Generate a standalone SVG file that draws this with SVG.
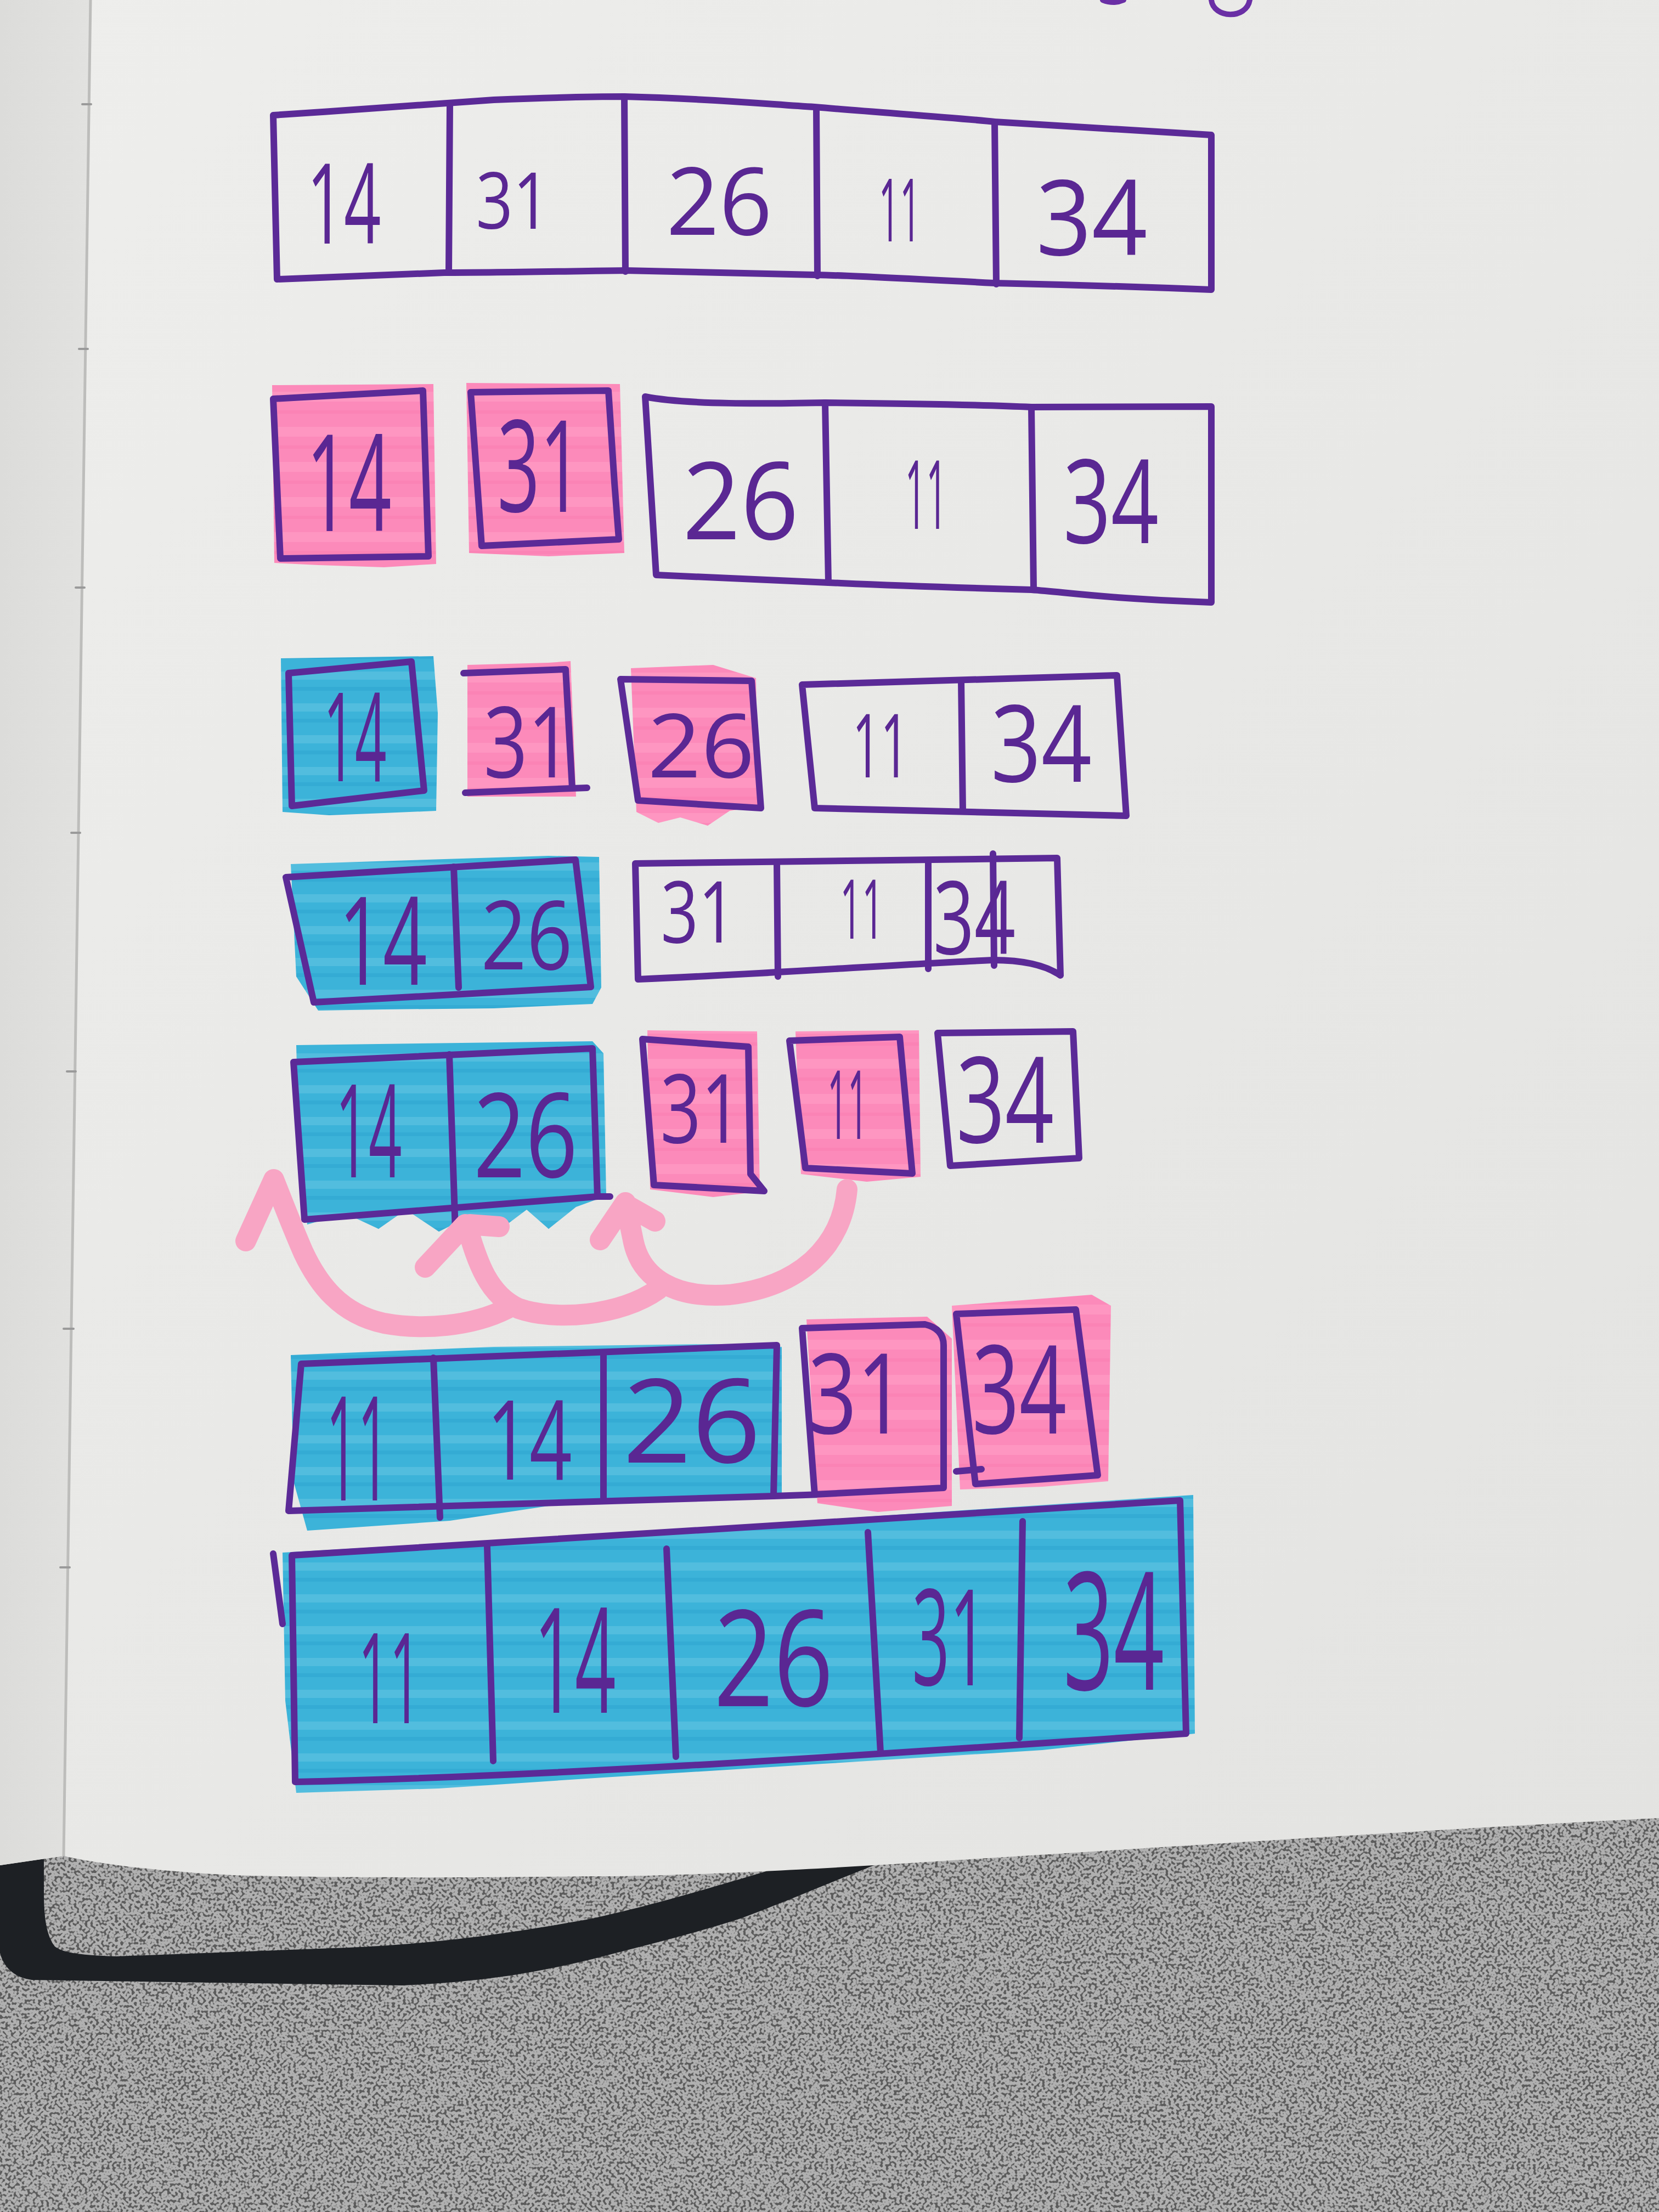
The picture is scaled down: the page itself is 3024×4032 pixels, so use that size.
<svg xmlns="http://www.w3.org/2000/svg" width="3024" height="4032" viewBox="0 0 3024 4032">
<defs>
  <linearGradient id="paper" x1="0" y1="0" x2="1" y2="1">
    <stop offset="0" stop-color="#eeeeec"/>
    <stop offset="1" stop-color="#e3e3e1"/>
  </linearGradient>
  <linearGradient id="leaf" x1="0" y1="0" x2="1" y2="0">
    <stop offset="0" stop-color="#dcdcda"/>
    <stop offset="1" stop-color="#e2e2e0"/>
  </linearGradient>
  <pattern id="bl" patternUnits="userSpaceOnUse" width="240" height="58">
    <rect width="240" height="58" fill="#3cb3d9"/>
    <rect y="6" width="240" height="15" fill="#6ccae5" opacity="0.45"/>
    <rect y="34" width="240" height="7" fill="#279fcc" opacity="0.4"/>
  </pattern>
  <pattern id="pk" patternUnits="userSpaceOnUse" width="240" height="64">
    <rect width="240" height="64" fill="#fc8aba"/>
    <rect y="10" width="240" height="18" fill="#ffa1c7" opacity="0.5"/>
    <rect y="44" width="240" height="6" fill="#f97bb0" opacity="0.5"/>
  </pattern>
  <filter id="speckle" filterUnits="objectBoundingBox" x="0" y="0" width="1" height="1" color-interpolation-filters="sRGB">
    <feTurbulence type="fractalNoise" baseFrequency="0.2" numOctaves="1" seed="7" result="n"/>
    <feColorMatrix in="n" type="matrix" values="0 0 0 0 0.36  0 0 0 0 0.36  0 0 0 0 0.36  9 0 0 0 -4.5" result="d"/>
    <feMerge><feMergeNode in="SourceGraphic"/><feMergeNode in="d"/></feMerge>
  </filter>
</defs>
<style>
  .ol{fill:none;stroke:#5b2a97;stroke-width:12;stroke-linejoin:round;stroke-linecap:round}
  .num{font-family:'Open Sans','Liberation Sans',sans-serif;font-weight:400;fill:#5a2793;text-anchor:middle}
  .hb{fill:url(#bl)}
  .hp{fill:url(#pk)}
  .arr{fill:none;stroke:#f8a5c4;stroke-width:38;stroke-linecap:round;stroke-linejoin:round}
  .stitch{stroke:#9a9a9a;stroke-width:4;stroke-linecap:round}
</style>

<!-- background: table, strap, page -->
<g id="background">
  <rect x="0" y="3200" width="3024" height="832" fill="#b0b0b0" filter="url(#speckle)"/>
  <path d="M0,3380 L0,3560 C8,3590 30,3605 58,3609 L733,3619 C900,3612 1000,3590 1080,3571 C1200,3540 1280,3520 1350,3497 C1450,3460 1560,3410 1700,3360 L1500,3380 C1300,3440 1200,3470 1080,3497 C900,3530 760,3545 636,3550 L212,3566 C150,3564 115,3560 100,3548 C86,3530 80,3500 80,3450 L80,3380 Z" fill="#1d2024"/>
  <path d="M0,0 H3024 V3314 C2600,3335 2000,3375 1736,3391 C1450,3410 1200,3421 1080,3420 C800,3424 550,3422 424,3418 C300,3412 180,3398 116,3383 L0,3400 Z" fill="url(#paper)"/>
  <path d="M0,0 L165,0 L116,3383 L0,3400 Z" fill="url(#leaf)"/>
  <path d="M165,0 L116,3383" stroke="#bdbdbb" stroke-width="5" fill="none"/>
  <line class="stitch" x1="150" y1="190" x2="166" y2="190"/>
  <line class="stitch" x1="144" y1="636" x2="160" y2="636"/>
  <line class="stitch" x1="138" y1="1071" x2="154" y2="1071"/>
  <line class="stitch" x1="130" y1="1518" x2="146" y2="1518"/>
  <line class="stitch" x1="122" y1="1953" x2="138" y2="1953"/>
  <line class="stitch" x1="116" y1="2422" x2="134" y2="2422"/>
  <line class="stitch" x1="110" y1="2857" x2="127" y2="2857"/>
  <path d="M2010,0 Q2030,8 2048,0 M2208,0 C2212,34 2272,36 2278,0" fill="none" stroke="#6a2fa5" stroke-width="10" stroke-linecap="round"/>
</g>

<!-- Row 1 -->
<g id="row1-array">
  <path class="ol" d="M498,210 C650,200 829,187 900,182 C1000,178 1100,176 1138,176 C1300,180 1400,190 1485,195 C1600,205 1750,215 1813,222 L2208,246 L2208,528 C2000,520 1900,518 1813,516 C1600,505 1500,501 1485,501 L1138,493 C1000,495 900,497 810,497 L505,509 Z"/>
  <path class="ol" d="M820,190 L818,497 M1138,176 L1140,495 M1488,196 L1490,503 M1813,222 L1816,518"/>
  <text class="num" x="627" y="444" font-size="203" textLength="135" lengthAdjust="spacingAndGlyphs">14</text>
  <text class="num" x="935" y="417" font-size="143" textLength="135" lengthAdjust="spacingAndGlyphs">31</text>
  <text class="num" x="1311" y="428" font-size="170" textLength="193" lengthAdjust="spacingAndGlyphs">26</text>
  <text class="num" x="1640" y="440" font-size="160" textLength="77" lengthAdjust="spacingAndGlyphs">11</text>
  <text class="num" x="1990" y="465" font-size="190" textLength="203" lengthAdjust="spacingAndGlyphs">34</text>
</g>

<!-- Row 2 -->
<g id="row2-14">
  <path class="hp" d="M496,702 L790,700 L795,1028 L700,1034 L580,1030 L500,1026 Z"/>
  <path class="ol" d="M498,727 L771,712 L781,1014 L511,1018 Z"/>
  <text class="num" x="636" y="968" font-size="245" textLength="155" lengthAdjust="spacingAndGlyphs">14</text>
</g>
<g id="row2-31">
  <path class="hp" d="M850,698 L1130,700 L1138,1008 L1000,1014 L855,1008 Z"/>
  <path class="ol" d="M858,715 L1109,712 L1120,880 L1128,983 L878,995 Z"/>
  <text class="num" x="984" y="933" font-size="233" textLength="155" lengthAdjust="spacingAndGlyphs">31</text>
</g>
<g id="row2-rest">
  <path class="ol" d="M1176,723 C1250,738 1400,736 1504,734 C1700,736 1800,738 1880,742 L2208,741 L2208,1098 C2000,1090 1950,1080 1880,1075 C1700,1070 1600,1066 1533,1063 L1196,1048 Z"/>
  <path class="ol" d="M1504,734 L1510,1062 M1880,742 L1884,1072"/>
  <text class="num" x="1350" y="983" font-size="196" textLength="212" lengthAdjust="spacingAndGlyphs">26</text>
  <text class="num" x="1688" y="964" font-size="175" textLength="77" lengthAdjust="spacingAndGlyphs">11</text>
  <text class="num" x="2025" y="990" font-size="212" textLength="174" lengthAdjust="spacingAndGlyphs">34</text>
</g>

<!-- Row 3 -->
<g id="row3-14">
  <path class="hb" d="M512,1200 L790,1196 L798,1300 L795,1478 L700,1482 L600,1486 L515,1480 Z"/>
  <path class="ol" d="M526,1227 L750,1206 L773,1441 L532,1469 Z"/>
  <text class="num" x="647" y="1424" font-size="225" textLength="115" lengthAdjust="spacingAndGlyphs">14</text>
</g>
<g id="row3-31">
  <path class="hp" d="M852,1212 L1000,1208 L1040,1205 L1050,1452 L852,1452 Z"/>
  <path class="ol" d="M845,1227 L1031,1220 L1043,1437 L1070,1436 M1043,1437 L848,1445 Z"/>
  <text class="num" x="962" y="1417" font-size="180" textLength="161" lengthAdjust="spacingAndGlyphs">31</text>
</g>
<g id="row3-26">
  <path class="hp" d="M1150,1218 L1300,1212 L1378,1236 L1382,1470 L1330,1478 L1290,1505 L1240,1490 L1200,1500 L1160,1480 Z"/>
  <path class="ol" d="M1131,1238 L1370,1241 L1387,1473 L1163,1459 Z"/>
  <text class="num" x="1278" y="1417" font-size="161" textLength="195" lengthAdjust="spacingAndGlyphs">26</text>
</g>
<g id="row3-rest">
  <path class="ol" d="M1462,1248 L2036,1231 L2053,1487 L1485,1473 Z"/>
  <path class="ol" d="M1752,1240 L1755,1478"/>
  <text class="num" x="1605" y="1417" font-size="161" textLength="103" lengthAdjust="spacingAndGlyphs">11</text>
  <text class="num" x="1898" y="1425" font-size="195" textLength="184" lengthAdjust="spacingAndGlyphs">34</text>
</g>

<!-- Row 4 -->
<g id="row4-14-26">
  <path class="hb" d="M530,1575 L1000,1560 L1092,1562 L1096,1800 L1080,1830 L900,1838 L700,1840 L580,1842 L540,1780 Z"/>
  <path class="ol" d="M521,1599 L1049,1567 L1077,1799 L572,1827 Z"/>
  <path class="ol" d="M827,1580 L836,1800"/>
  <text class="num" x="698" y="1795" font-size="224" textLength="161" lengthAdjust="spacingAndGlyphs">14</text>
  <text class="num" x="960" y="1767" font-size="175" textLength="167" lengthAdjust="spacingAndGlyphs">26</text>
</g>
<g id="row4-rest">
  <path class="ol" d="M1158,1574 L1927,1564 L1933,1778 C1900,1755 1850,1750 1810,1750 C1600,1760 1400,1775 1163,1785 Z"/>
  <path class="ol" d="M1416,1572 L1418,1780 M1692,1568 L1692,1766 M1810,1556 L1812,1760"/>
  <text class="num" x="1273" y="1718" font-size="156" textLength="137" lengthAdjust="spacingAndGlyphs">31</text>
  <text class="num" x="1571" y="1711" font-size="151" textLength="80" lengthAdjust="spacingAndGlyphs">11</text>
  <text class="num" x="1776" y="1739" font-size="185" textLength="150" lengthAdjust="spacingAndGlyphs">34</text>
</g>

<!-- Row 5 -->
<g id="row5-14-26">
  <path class="hb" d="M540,1905 L1080,1898 L1100,1920 L1105,2180 L1050,2200 L1000,2240 L960,2205 L900,2250 L860,2215 L800,2245 L740,2205 L690,2240 L630,2212 L560,2232 L545,2100 Z"/>
  <path class="ol" d="M535,1936 L1080,1911 L1089,2181 L555,2223 Z"/>
  <path class="ol" d="M1089,2181 L1112,2181 M819,1922 L830,2244"/>
  <text class="num" x="672" y="2146" font-size="236" textLength="121" lengthAdjust="spacingAndGlyphs">14</text>
  <text class="num" x="958" y="2146" font-size="214" textLength="190" lengthAdjust="spacingAndGlyphs">26</text>
</g>
<g id="row5-31">
  <path class="hp" d="M1180,1878 L1380,1880 L1385,2172 L1300,2182 L1185,2168 Z"/>
  <path class="ol" d="M1171,1894 L1364,1908 L1368,2140 L1393,2171 L1192,2160 Z"/>
  <text class="num" x="1278" y="2083" font-size="175" textLength="149" lengthAdjust="spacingAndGlyphs">31</text>
</g>
<g id="row5-11">
  <path class="hp" d="M1450,1880 L1675,1878 L1678,2145 L1580,2154 L1460,2140 Z"/>
  <path class="ol" d="M1439,1897 L1640,1890 L1663,2139 L1468,2129 Z"/>
  <text class="num" x="1545" y="2076" font-size="175" textLength="74" lengthAdjust="spacingAndGlyphs">11</text>
</g>
<g id="row5-34">
  <path class="ol" d="M1709,1883 L1956,1880 L1967,2111 L1732,2125 Z"/>
  <text class="num" x="1832" y="2083" font-size="219" textLength="178" lengthAdjust="spacingAndGlyphs">34</text>
</g>

<!-- Connectors: pink merge arrows -->
<g id="connectors">
  <path class="arr" d="M1544,2168 C1535,2270 1460,2345 1330,2360 C1230,2368 1170,2330 1155,2265 L1140,2192 M1140,2192 L1094,2260 M1148,2200 L1194,2226"/>
  <path class="arr" d="M1200,2350 C1130,2400 1010,2408 945,2385 C890,2360 870,2300 852,2238 M848,2232 L775,2310 M856,2232 L910,2236"/>
  <path class="arr" d="M925,2385 C860,2418 770,2425 700,2412 C620,2395 580,2340 553,2283 C530,2230 515,2190 499,2150 M499,2150 L448,2262"/>
</g>

<!-- Row 6 -->
<g id="row6-11-14-26">
  <path class="hb" d="M530,2470 L900,2455 L1300,2450 L1425,2455 L1425,2730 L1000,2745 L820,2772 L560,2790 L535,2700 Z"/>
  <path class="ol" d="M549,2486 L1416,2452 L1410,2727 L526,2754 Z"/>
  <path class="ol" d="M1410,2727 L1720,2716 M790,2475 L802,2766 M1100,2467 L1100,2735"/>
  <text class="num" x="652" y="2735" font-size="265" textLength="115" lengthAdjust="spacingAndGlyphs">11</text>
  <text class="num" x="965" y="2697" font-size="201" textLength="155" lengthAdjust="spacingAndGlyphs">14</text>
  <text class="num" x="1261" y="2666" font-size="212" textLength="252" lengthAdjust="spacingAndGlyphs">26</text>
</g>
<g id="row6-31">
  <path class="hp" d="M1470,2405 L1690,2400 L1735,2440 L1735,2745 L1600,2756 L1490,2740 Z"/>
  <path class="ol" d="M1462,2421 L1686,2414 C1712,2420 1720,2435 1720,2452 L1720,2712 L1485,2724 Z"/>
  <text class="num" x="1562" y="2613" font-size="203" textLength="178" lengthAdjust="spacingAndGlyphs">31</text>
</g>
<g id="row6-34">
  <path class="hp" d="M1735,2380 L1990,2360 L2025,2380 L2020,2700 L1900,2710 L1750,2715 Z"/>
  <path class="ol" d="M1743,2395 L1961,2387 L2001,2689 L1778,2705 Z"/>
  <path class="ol" d="M1743,2682 L1789,2678"/>
  <text class="num" x="1858" y="2613" font-size="224" textLength="172" lengthAdjust="spacingAndGlyphs">34</text>
</g>

<!-- Row 7 -->
<g id="row7-sorted">
  <path class="hb" d="M515,2830 L1200,2790 L2175,2725 L2178,3160 L1900,3190 L1500,3215 L1100,3240 L800,3260 L540,3268 L520,3100 Z"/>
  <path class="ol" d="M532,2835 C900,2815 1500,2780 2151,2735 L2162,3160 C1700,3190 1100,3235 538,3248 Z"/>
  <path class="ol" d="M498,2832 L515,2960 M888,2819 L899,3210 M1215,2823 L1232,3202 M1582,2793 L1605,3194 M1864,2773 L1858,3168"/>
  <text class="num" x="710" y="3141" font-size="229" textLength="114" lengthAdjust="spacingAndGlyphs">11</text>
  <text class="num" x="1048" y="3122" font-size="267" textLength="149" lengthAdjust="spacingAndGlyphs">14</text>
  <text class="num" x="1410" y="3110" font-size="244" textLength="218" lengthAdjust="spacingAndGlyphs">26</text>
  <text class="num" x="1731" y="3072" font-size="244" textLength="137" lengthAdjust="spacingAndGlyphs">31</text>
  <text class="num" x="2030" y="3080" font-size="299" textLength="184" lengthAdjust="spacingAndGlyphs">34</text>
</g>
</svg>
